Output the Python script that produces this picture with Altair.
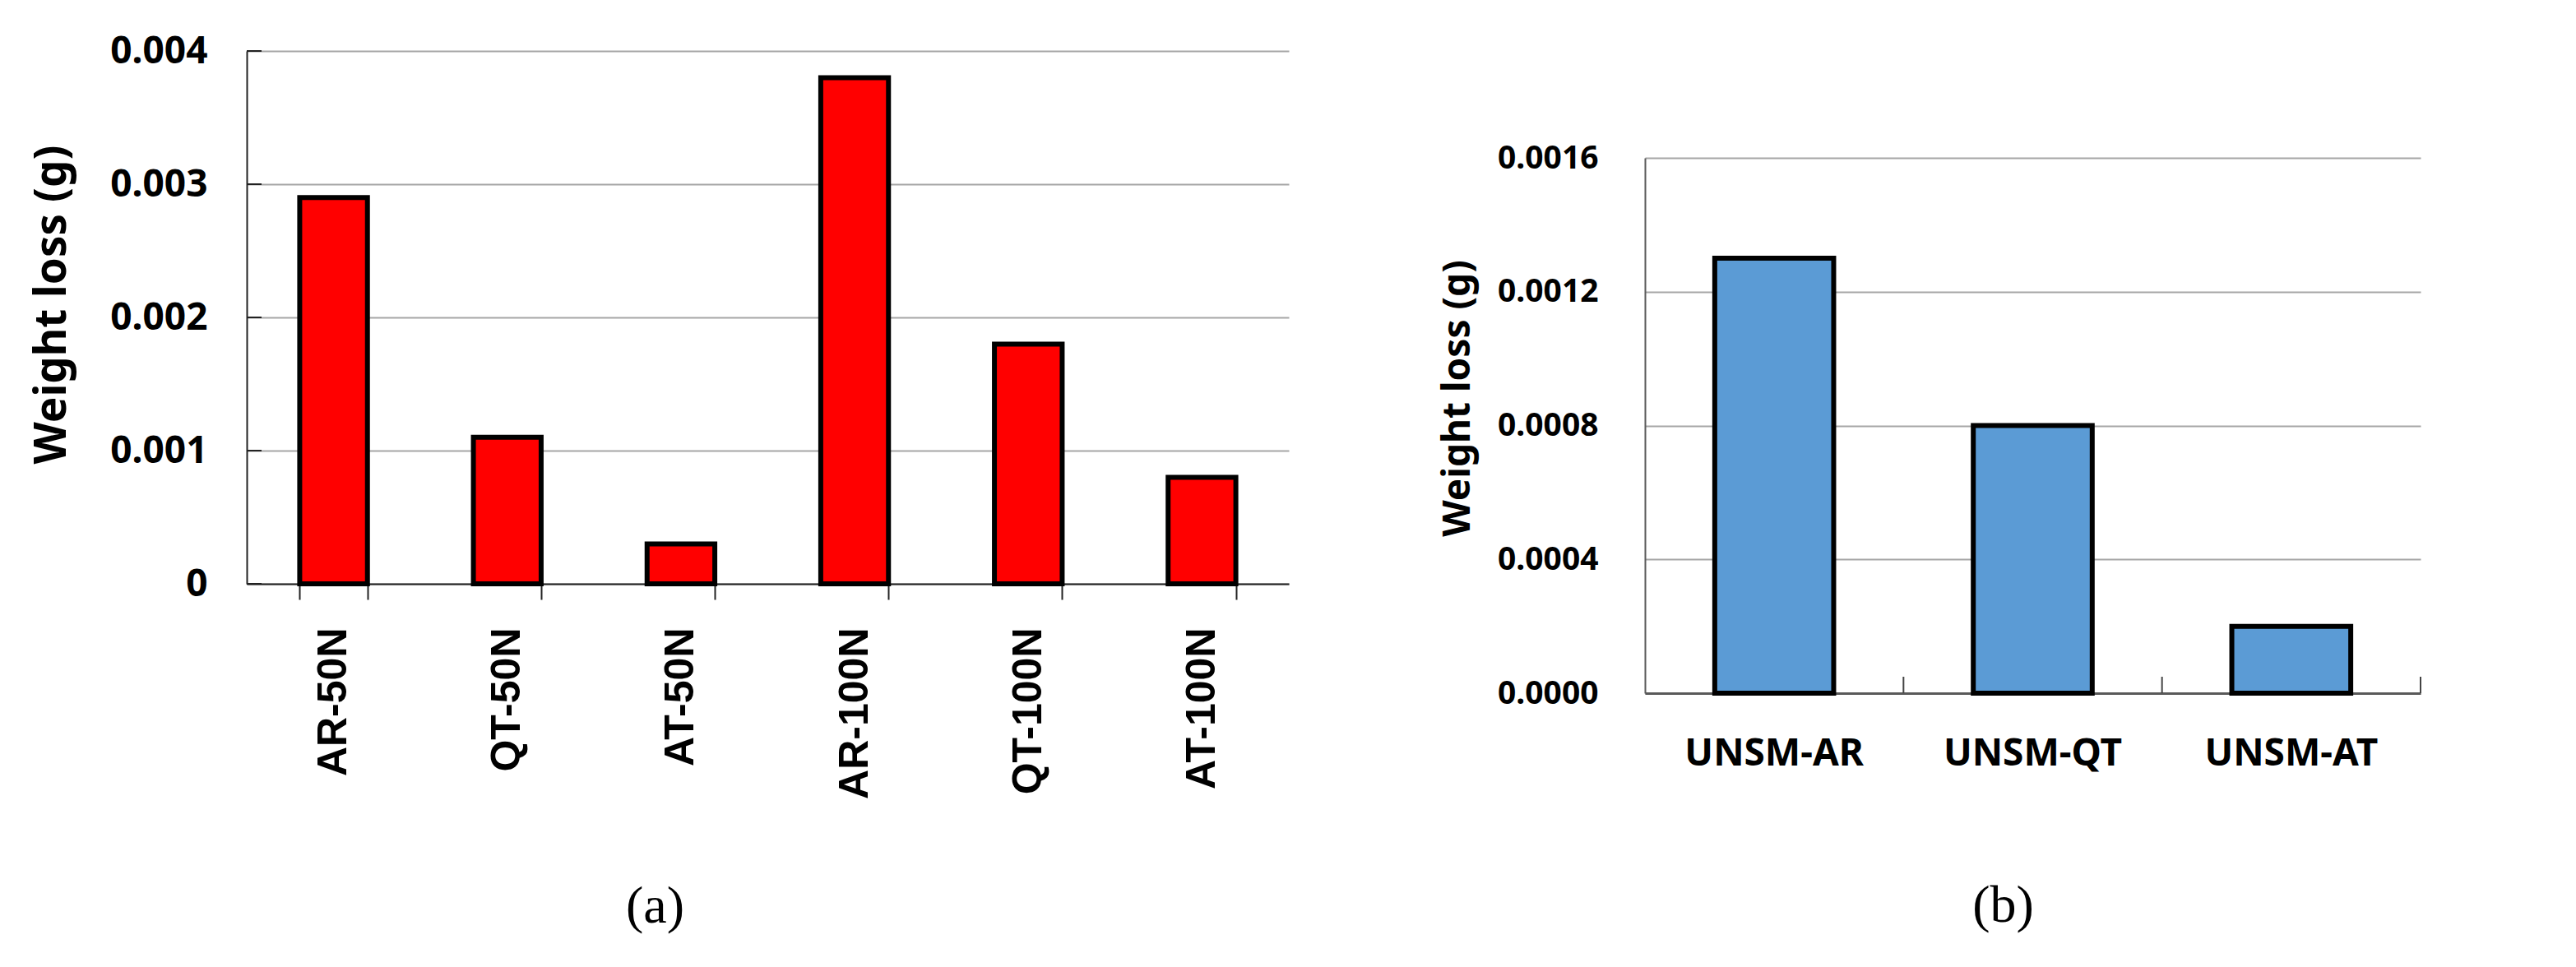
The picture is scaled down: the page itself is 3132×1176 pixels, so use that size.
import altair as alt
import pandas as pd

# ---- data ----
cats_a = ["AR-50N", "QT-50N", "AT-50N", "AR-100N", "QT-100N", "AT-100N"]
vals_a = [0.0029, 0.0011, 0.0003, 0.0038, 0.0018, 0.0008]
ticks_a = [0, 0.001, 0.002, 0.003, 0.004]

cats_b = ["UNSM-AR", "UNSM-QT", "UNSM-AT"]
vals_b = [0.0013, 0.0008, 0.0002]
ticks_b = [0, 0.0004, 0.0008, 0.0012, 0.0016]

y_title = "Weight loss (g)"
cap_a = "(a)"
cap_b = "(b)"

df_a = pd.DataFrame({"cat": cats_a, "val": vals_a})
df_ta = pd.DataFrame({"val": ticks_a})
df_b = pd.DataFrame({"cat": cats_b, "val": vals_b})

W_A, H_A = 1267, 648
W_B, H_B = 943, 651

# ---- panel (a) ----
xa = alt.X("cat:N", sort=cats_a,
           scale=alt.Scale(paddingInner=0.61, paddingOuter=0.305),
           axis=alt.Axis(title=None, labelAngle=270, labelAlign="right",
                         labelBaseline="middle", labelFont="Liberation Sans",
                         labelFontSize=50, labelFontWeight="bold", labelColor="black",
                         labelLimit=0, labelPadding=34, tickBand="extent", ticks=True,
                         tickSize=19, tickColor="#222222", tickWidth=2,
                         domainColor="#222222", domainWidth=2, grid=False))
ya = alt.Y("val:Q", scale=alt.Scale(domain=[0, 0.004], nice=False),
           axis=alt.Axis(values=ticks_a, format=".3~f", title=y_title,
                         titleX=-221, titleY=308, titleAngle=270, titleAlign="center",
                         titleBaseline="alphabetic", titleFont="Noto Sans",
                         titleFontSize=53, titleFontWeight="bold", titleColor="black",
                         titleLimit=0, labelFont="Noto Sans", labelFontSize=46,
                         labelFontWeight="bold", labelColor="black", labelLimit=0,
                         labelPadding=48, ticks=False, grid=True, gridColor="#a6a6a6",
                         gridWidth=2, domainColor="#222222", domainWidth=2))

bars_a = alt.Chart(df_a).mark_bar(color="#FF0000", stroke="black", strokeWidth=6).encode(
    x=xa, y=ya)
inticks_a = alt.Chart(df_ta).mark_rule(color="#222222", strokeWidth=2).encode(
    y=ya, x=alt.value(0), x2=alt.value(18))

chart_a = alt.layer(bars_a, inticks_a).properties(
    width=W_A, height=H_A,
    title=alt.TitleParams(cap_a, orient="bottom", anchor="middle", frame="group",
                          dx=-137, offset=100, font="Liberation Serif", fontSize=64,
                          fontWeight="normal", color="black"))

# ---- panel (b) ----
xb = alt.X("cat:N", sort=cats_b,
           scale=alt.Scale(paddingInner=0.54, paddingOuter=0.27),
           axis=alt.Axis(title=None, labelAngle=0, labelFont="Noto Sans",
                         labelFontSize=46, labelFontWeight="bold", labelColor="black",
                         labelLimit=0, labelPadding=51, ticks=False,
                         domainColor="#595959", domainWidth=3, grid=False))
yb = alt.Y("val:Q", scale=alt.Scale(domain=[0, 0.0016], nice=False),
           axis=alt.Axis(values=ticks_b, format=".4f", title=y_title,
                         titleX=-214, titleY=292, titleAngle=270, titleAlign="center",
                         titleBaseline="alphabetic", titleFont="Noto Sans",
                         titleFontSize=46, titleFontWeight="bold", titleColor="black",
                         titleLimit=0, labelFont="Noto Sans", labelFontSize=39,
                         labelFontWeight="bold", labelColor="black", labelLimit=0,
                         labelPadding=57, ticks=False, grid=True, gridColor="#a6a6a6",
                         gridWidth=2, domainColor="#595959", domainWidth=2))

bars_b = alt.Chart(df_b).mark_bar(color="#5B9BD5", stroke="black", strokeWidth=6).encode(
    x=xb, y=yb)
upticks_b = alt.Chart(df_b).mark_rule(color="#444444", strokeWidth=2,
                                       xOffset=W_B / 6).encode(
    x=xb, y=alt.value(H_B), y2=alt.value(H_B - 20))

chart_b = alt.layer(bars_b, upticks_b).properties(
    width=W_B, height=H_B,
    title=alt.TitleParams(cap_b, orient="bottom", anchor="middle", frame="group",
                          dx=-36, offset=131, font="Liberation Serif", fontSize=64,
                          fontWeight="normal", color="black"))

spacer = alt.Chart(pd.DataFrame({"s": [0]})).mark_point(opacity=0).properties(
    width=W_B, height=130)

col_b = alt.vconcat(spacer, chart_b, spacing=0, bounds="flush")

chart = alt.hconcat(chart_a, col_b, spacing=433, bounds="flush").properties(
    padding={"left": 28, "top": 30, "right": 5, "bottom": 5},
    background="white",
).configure_view(stroke="transparent")

chart.save("out.html", embed_options={"renderer": "svg", "actions": False})
